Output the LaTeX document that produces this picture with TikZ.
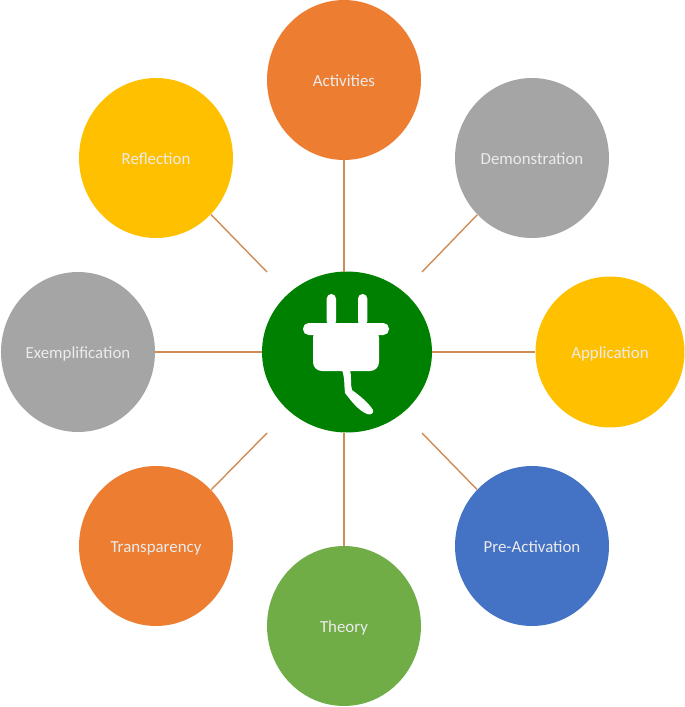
\documentclass[tikz,border=0pt]{standalone}
\usepackage{fontspec}
\setmainfont{Carlito}
\usetikzlibrary{shapes.geometric}
\definecolor{wh_orange}{RGB}{237, 125, 49}
\definecolor{wh_gray}{RGB}{165, 165, 165}
\definecolor{wh_yellow}{RGB}{255, 192, 0}
\definecolor{wh_blue}{RGB}{68, 114, 196}
\definecolor{wh_green}{RGB}{112, 173, 71}
\definecolor{wh_hub}{RGB}{0, 128, 0}
\definecolor{wh_line}{RGB}{207, 140, 85}
\tikzstyle{bub}=[ellipse,inner sep=0pt,text=white!92!black,font=\fontsize{9.6pt}{11pt}\selectfont,
  text height=9.8pt,text depth=2pt,minimum width=3.08cm,minimum height=3.2cm]
\tikzstyle{on}=[bub,fill=wh_orange]
\tikzstyle{gy}=[bub,fill=wh_gray]
\tikzstyle{yl}=[bub,fill=wh_yellow]
\tikzstyle{bl}=[bub,fill=wh_blue]
\tikzstyle{gn}=[bub,fill=wh_green]
\tikzstyle{hub}=[ellipse,inner sep=0pt,fill=wh_hub,minimum width=3.4cm,minimum height=3.22cm]
\tikzstyle{spoke}=[draw=wh_line,line width=0.8pt]
\begin{document}
\begin{tikzpicture}[x=0.02cm,y=-0.02cm]
        \useasboundingbox (0,0) rectangle (685,707);
        \node [style=hub] (0) at (347,352) {};
        \node [style=on] (1) at (344,80) {Activities};
        \node [style=gy] (2) at (532,158) {Demonstration};
        \node [style=yl,minimum width=2.98cm,minimum height=3.02cm] (3) at (610,352) {Application};
        \node [style=bl] (4) at (532,546) {Pre-Activation};
        \node [style=gn] (5) at (344,626) {Theory};
        \node [style=on] (6) at (156,546) {Transparency};
        \node [style=gy] (7) at (78,352) {Exemplification};
        \node [style=yl] (8) at (156,158) {Reflection};
        \coordinate (a) at (344,272);
        \coordinate (b) at (422,272);
        \coordinate (c) at (432,352);
        \coordinate (d) at (422,433);
        \coordinate (e) at (344,433);
        \coordinate (f) at (267,433);
        \coordinate (g) at (262,352);
        \coordinate (h) at (267,272);
        \draw [style=spoke] (1) to (a);
        \draw [style=spoke] (2) to (b);
        \draw [style=spoke] (3) to (c);
        \draw [style=spoke] (4) to (d);
        \draw [style=spoke] (5) to (e);
        \draw [style=spoke] (6) to (f);
        \draw [style=spoke] (7) to (g);
        \draw [style=spoke] (8) to (h);
        % plug
        \fill [white,rounded corners=2.6pt] (326.7,326) -- (326.7,294) -- (336,294) -- (336,326) -- cycle;
        \fill [white,rounded corners=2.6pt] (358,326) -- (358,294) -- (367.3,294) -- (367.3,326) -- cycle;
        \fill [white,rounded corners=3.2pt] (303,323) rectangle (389,335);
        \fill [white,rounded corners=5pt] (313,329) rectangle (379,371);
        \fill [white] (342,370) .. controls (345,378) and (344,386) .. (345,393)
            .. controls (352,402) and (358,410) .. (367,414) .. controls (371,415.5) and (374,413) .. (373,410)
            .. controls (368,402) and (360,396) .. (352,390) .. controls (350,384) and (352,376) .. (350,370) -- cycle;
    \end{tikzpicture}
\end{document}
